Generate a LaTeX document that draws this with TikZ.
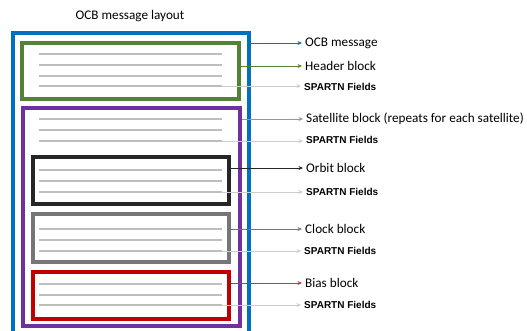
\documentclass[tikz,border=0pt]{standalone}
\usepackage{fontspec}
\setmainfont{Carlito}
\newfontfamily\fieldfont{Liberation Sans}
\usepackage{xcolor}
\usetikzlibrary{arrows.meta,positioning,calc}
\definecolor{ocbblue}{RGB}{0,112,192}
\definecolor{ocbgreen}{RGB}{84,130,53}
\definecolor{ocbpurple}{RGB}{112,48,160}
\definecolor{ocbblack}{RGB}{38,38,38}
\definecolor{ocbgray}{RGB}{118,118,118}
\definecolor{ocbred}{RGB}{192,0,0}
\definecolor{fieldgray}{RGB}{190,190,190}
\definecolor{linkgray}{RGB}{205,205,205}

\begin{document}
\begin{tikzpicture}[
            x=1pt, y=-1pt,
            blockbox/.style={rectangle, draw=#1, line width=3.6pt, fill=none, inner sep=0pt},
            fieldline/.style={fieldgray, line width=2pt},
            lbl/.style={anchor=west, inner sep=1pt, font=\fontsize{13.2}{15}\selectfont},
            fieldlbl/.style={anchor=west, inner sep=1pt, font=\fieldfont\bfseries\fontsize{10}{12}\selectfont},
            link/.style={-{Stealth[length=4.5pt,width=4pt]}, line width=0.8pt, #1, shorten >=2pt}
        ]
            \clip (0,0) rectangle (527,331);

            % Title
            \node[lbl, anchor=center] (title) at (130,16) {OCB message layout};

            % Blocks
            \node[blockbox=ocbblue, minimum width=236pt, minimum height=307pt] (ocb) at (131,186.5) {};
            \node[blockbox=ocbgreen, minimum width=217pt, minimum height=56pt] (header) at (130.5,71) {};
            \node[blockbox=ocbpurple, minimum width=217pt, minimum height=218pt] (sat) at (131.5,217) {};
            \node[blockbox=ocbblack, minimum width=196pt, minimum height=47pt] (orbit) at (131,180.5) {};
            \node[blockbox=ocbgray, minimum width=196pt, minimum height=48pt] (clock) at (131,238) {};
            \node[blockbox=ocbred, minimum width=196pt, minimum height=47pt] (bias) at (131,295.5) {};

            % Field lines
            \foreach \y in {54,65,76,86,119,130,141,170,181,192,229,240,251,284,295,305}
                \draw[fieldline] (39,\y) -- (222,\y);
            \coordinate (hf) at (222,86);
            \coordinate (sf) at (222,141);
            \coordinate (of) at (222,192);
            \coordinate (cf) at (222,251);
            \coordinate (bf) at (222,305);

            % Labels
            \node[lbl] (locb) at (304,43) {OCB message};
            \node[lbl] (lhead) at (304,66) {Header block};
            \node[fieldlbl] (lhf) at (303,87) {SPARTN Fields};
            \node[lbl] (lsat) at (305,119) {Satellite block (repeats for each satellite)};
            \node[fieldlbl] (lsf) at (305,140) {SPARTN Fields};
            \node[lbl] (lorbit) at (305,168) {Orbit block};
            \node[fieldlbl] (lof) at (305,192) {SPARTN Fields};
            \node[lbl] (lclock) at (304,229) {Clock block};
            \node[fieldlbl] (lcf) at (303,251) {SPARTN Fields};
            \node[lbl] (lbias) at (304,283) {Bias block};
            \node[fieldlbl] (lbf) at (303,305) {SPARTN Fields};

            % Arrows
            \draw[link=ocbblue] (ocb.east |- locb.west) -- (locb.west);
            \draw[link=ocbgreen] (header.east |- lhead.west) -- (lhead.west);
            \draw[link=linkgray] (hf) -- (hf -| lhf.west);
            \draw[link=ocbpurple!60] (sat.east |- lsat.west) -- (lsat.west);
            \draw[link=linkgray] (sf) -- (sf -| lsf.west);
            \draw[link=ocbblack] (orbit.east |- lorbit.west) -- (lorbit.west);
            \draw[link=linkgray] (of) -- (of -| lof.west);
            \draw[link=ocbgray] (clock.east |- lclock.west) -- (lclock.west);
            \draw[link=linkgray] (cf) -- (cf -| lcf.west);
            \draw[link=ocbred!80] (bias.east |- lbias.west) -- (lbias.west);
            \draw[link=linkgray] (bf) -- (bf -| lbf.west);
        \end{tikzpicture}
\end{document}
